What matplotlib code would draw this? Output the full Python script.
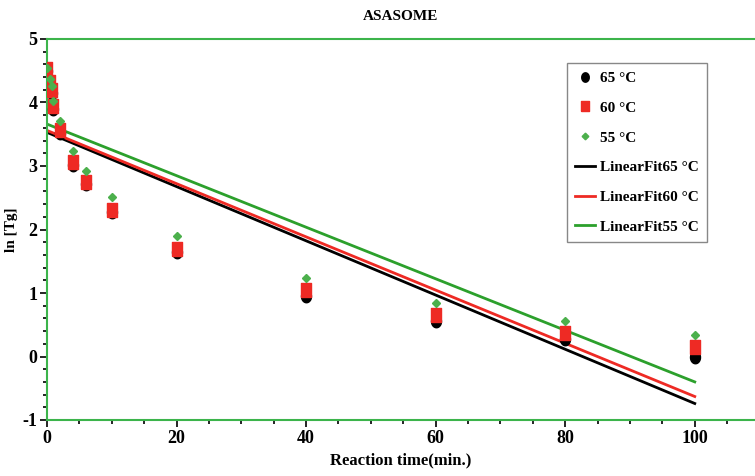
import matplotlib
matplotlib.use("Agg")
import numpy as np
import matplotlib.pyplot as plt
from matplotlib.ticker import MultipleLocator

# reaction time (min) and ln[Tg]
time = [0, 0.5, 0.8, 1, 2, 4, 6, 10, 20, 40, 60, 80, 100]
ln_65 = [4.50, 4.28, 4.15, 3.90, 3.52, 3.02, 2.72, 2.27, 1.64, 0.96, 0.56, 0.27, -0.01]
ln_60 = [4.53, 4.32, 4.20, 3.94, 3.57, 3.06, 2.75, 2.31, 1.69, 1.05, 0.65, 0.37, 0.15]
ln_55 = [4.54, 4.37, 4.26, 4.02, 3.71, 3.24, 2.92, 2.51, 1.90, 1.24, 0.84, 0.56, 0.34]

# linear fits (intercept, slope) as drawn
fit_labels = ["LinearFit65 °C", "LinearFit60 °C", "LinearFit55 °C"]
fit_intercepts = [3.53, 3.56, 3.66]
fit_slopes = [-0.0427, -0.0419, -0.0406]
fit_colors = ["black", "#ee2a24", "#2ca02c"]

plt.rcParams["font.family"] = ["Liberation Serif", "DejaVu Serif"]
plt.rcParams["font.weight"] = "bold"
plt.rcParams["axes.unicode_minus"] = False

# tall rectangle / tall ellipse, as the markers look in the original
rect = [(-0.36, -0.5), (0.36, -0.5), (0.36, 0.5), (-0.36, 0.5), (-0.36, -0.5)]
th = np.linspace(0, 2 * np.pi, 40)
oval = list(zip(0.4 * np.cos(th), 0.5 * np.sin(th)))

fig = plt.figure(figsize=(7.55, 4.76), dpi=100)
ax = fig.add_axes([47 / 755, 1 - 420 / 476, 1 - 47 / 755, 381 / 476])

ax.plot(time, ln_65, marker=oval, ls="none", color="black", ms=9, label="65 °C", zorder=3)
ax.plot(time, ln_60, marker=rect, ls="none", color="#ee2a24", ms=10, label="60 °C", zorder=4)
ax.plot(time, ln_55, "D", color="#4cb04c", ms=4.5, label="55 °C", zorder=5)

xf = np.array([0, 100])
for b, m, c, lab in zip(fit_intercepts, fit_slopes, fit_colors, fit_labels):
    ax.plot(xf, b + m * xf, color=c, lw=2, label=lab, zorder=2)

ax.set_xlim(0, 109.3)
ax.set_ylim(-1, 5)
ax.xaxis.set_major_locator(MultipleLocator(20))
ax.xaxis.set_minor_locator(MultipleLocator(5))
ax.yaxis.set_major_locator(MultipleLocator(1))
ax.yaxis.set_minor_locator(MultipleLocator(0.2))
ax.tick_params(which="both", direction="out", color="black", width=1.2)
ax.tick_params(which="major", length=5, labelsize=13, pad=2)
ax.tick_params(which="minor", length=3)

for side in ["left", "bottom", "top"]:
    ax.spines[side].set_color("#3cb44b")
    ax.spines[side].set_linewidth(1.5)
ax.spines["right"].set_visible(False)

ax.set_title("ASASOME", fontsize=11, fontweight="bold", pad=14)
ax.set_xlabel("Reaction time(min.)", fontsize=12, fontweight="bold", labelpad=4)
ax.set_ylabel("ln [Tg]", fontsize=11, fontweight="bold")
ax.yaxis.set_label_coords(-0.041, 0.5)

leg = ax.legend(loc="upper left", bbox_to_anchor=(0.734, 0.937), borderaxespad=0,
                fontsize=11, labelspacing=1.05, handlelength=1.3, handletextpad=0.3,
                borderpad=0.55, markerscale=0.75, fancybox=False, framealpha=1,
                edgecolor="#888888")
leg.get_frame().set_linewidth(1)

fig.savefig("out.png", dpi=100, facecolor="white")
